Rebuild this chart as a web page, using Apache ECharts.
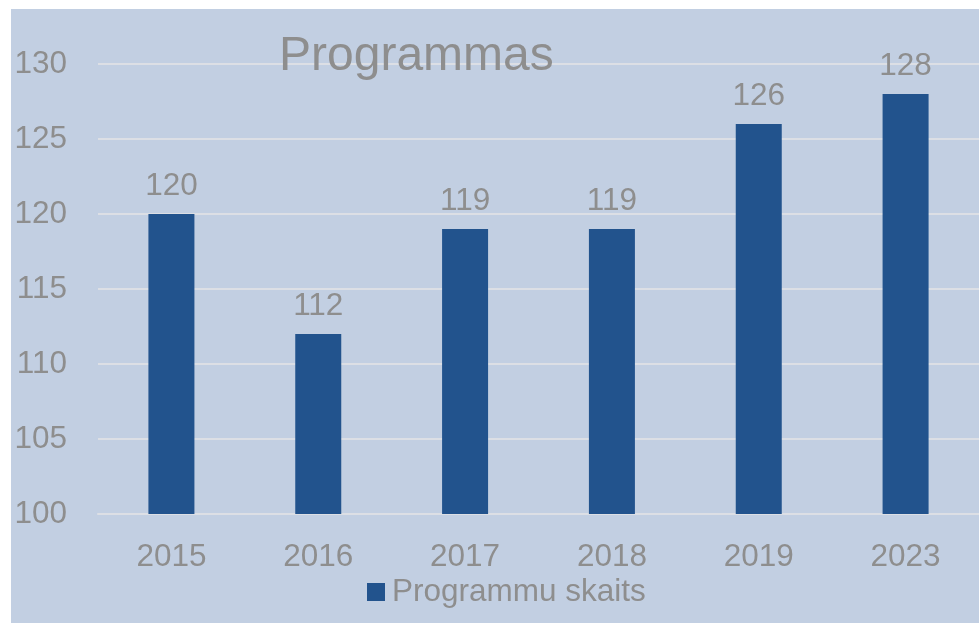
<!DOCTYPE html>
<html>
<head>
<meta charset="utf-8">
<script src="https://cdn.jsdelivr.net/npm/echarts@6/dist/echarts.min.js"></script>
<style>
  html, body { margin: 0; padding: 0; background: #fff; }
  .chart { position: absolute; left: 11px; top: 9px; width: 968px; height: 614px; }
</style>
</head>
<body>
<div id="chart" class="chart"></div>
<script>
// dati
const years = ['2015', '2016', '2017', '2018', '2019', '2023']
const programmuSkaits = [120, 112, 119, 119, 126, 128]
const seriesName = 'Programmu skaits'
const titleText = 'Programmas'

const textGrey = '#8e8e8e'
const fontFam = 'Liberation Sans, Arial, sans-serif'

var myChart = echarts.init(document.getElementById('chart'))
let option = {
  backgroundColor: '#c2cfe2',
  animation: false,
  title: {
    text: titleText,
    left: 263,
    top: 19,
    textStyle: {
      color: textGrey,
      fontSize: 48,
      fontWeight: 'normal',
      fontFamily: fontFam
    }
  },
  legend: {
    data: [seriesName],
    left: 351,
    top: 562,
    icon: 'rect',
    itemWidth: 18,
    itemHeight: 18,
    itemGap: 8,
    textStyle: {
      color: textGrey,
      fontSize: 31.5,
      fontFamily: fontFam,
      padding: [0, 0, 0, 2]
    }
  },
  grid: {
    left: 87,
    right: 0,
    top: 55,
    bottom: 109,
    containLabel: false
  },
  xAxis: {
    type: 'category',
    data: years,
    axisLine: { show: true, lineStyle: { color: '#dcdfe5', width: 2 } },
    axisTick: { show: false },
    axisLabel: {
      color: textGrey,
      fontSize: 31.5,
      fontFamily: fontFam,
      margin: 27
    }
  },
  yAxis: {
    type: 'value',
    min: 100,
    max: 130,
    interval: 5,
    axisLine: { show: false },
    axisTick: { show: false },
    splitLine: { lineStyle: { color: '#dcdfe5', width: 2 } },
    axisLabel: {
      color: textGrey,
      fontSize: 31.5,
      fontFamily: fontFam,
      margin: 31
    }
  },
  series: [
    {
      name: seriesName,
      type: 'bar',
      data: programmuSkaits,
      barWidth: 46,
      itemStyle: { color: '#22538d' },
      label: {
        show: true,
        position: 'top',
        distance: 12,
        color: textGrey,
        fontSize: 31.5,
        fontFamily: fontFam
      }
    }
  ]
}
myChart.setOption(option)
</script>
</body>
</html>
